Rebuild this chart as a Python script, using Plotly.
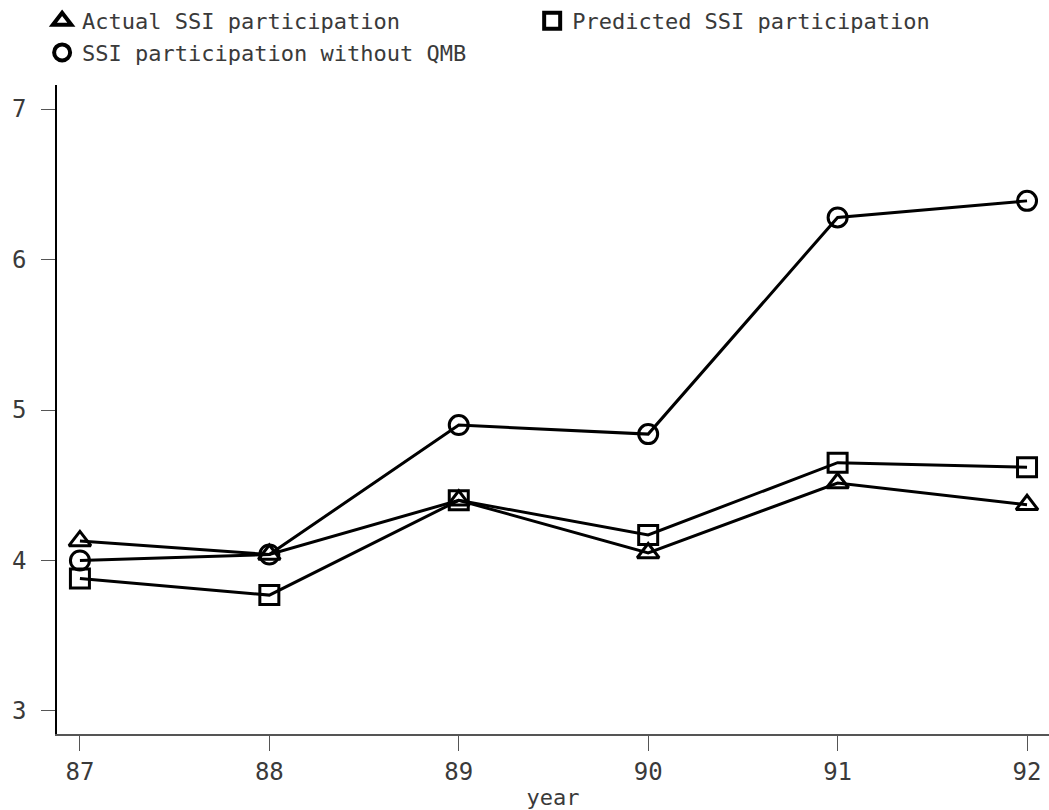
import plotly.graph_objects as go

years = [87, 88, 89, 90, 91, 92]
actual = [4.13, 4.04, 4.40, 4.05, 4.515, 4.37]
predicted = [3.88, 3.77, 4.40, 4.17, 4.65, 4.62]
without_qmb = [4.00, 4.04, 4.90, 4.84, 6.28, 6.39]

names = ["Actual SSI participation", "Predicted SSI participation", "SSI participation without QMB"]
symbols = ["triangle-up-open", "square-open", "circle-open"]
series = [actual, predicted, without_qmb]
legend_ids = ["legend", "legend2", "legend"]

FONT = "DejaVu Sans Mono"
TXT = "#3a3a3a"

fig = go.Figure()
for nm, sym, vals in zip(names, symbols, series):
    fig.add_trace(go.Scatter(
        x=years, y=vals, name=nm, mode="lines+markers", showlegend=False,
        line=dict(color="black", width=3),
        marker=dict(symbol=sym, size=19, color="black", line=dict(color="black", width=3)),
    ))
# legend-only entries (markers only, like the reference key)
for nm, sym, lg in zip(names, symbols, legend_ids):
    fig.add_trace(go.Scatter(
        x=[None], y=[None], name=nm, mode="markers", legend=lg,
        marker=dict(symbol=sym, size=16, color="black", line=dict(color="black", width=4)),
    ))

leg_common = dict(orientation="v", xanchor="left", yanchor="top", y=1.131,
                  font=dict(family=FONT, size=22, color=TXT), tracegroupgap=0,
                  itemsizing="trace", bgcolor="rgba(0,0,0,0)")

fig.update_layout(
    width=1049, height=810,
    margin=dict(l=57, r=0, t=85, b=76),
    plot_bgcolor="white", paper_bgcolor="white",
    font=dict(family=FONT, size=22, color=TXT),
    showlegend=True,
    legend=dict(x=-0.015, **leg_common),
    legend2=dict(x=0.479, **leg_common),
    xaxis=dict(range=[86.879, 92.116], tickvals=years, ticktext=[str(y) for y in years],
               showgrid=False, zeroline=False, showline=True, linecolor="#555", linewidth=1.5,
               ticks="outside", ticklen=15, tickwidth=1.2, tickcolor="#555",
               tickfont=dict(size=24, color=TXT),
               title=dict(text="year", font=dict(size=22, color=TXT), standoff=5)),
    yaxis=dict(range=[2.847, 7.16], tickvals=[3, 4, 5, 6, 7],
               showgrid=False, zeroline=False, showline=True, linecolor="black", linewidth=1.5,
               ticks="outside", ticklen=14, tickwidth=1.2, tickcolor="#555",
               ticklabelstandoff=10,
               tickfont=dict(size=24, color=TXT)),
)

fig.write_html("out.html")
